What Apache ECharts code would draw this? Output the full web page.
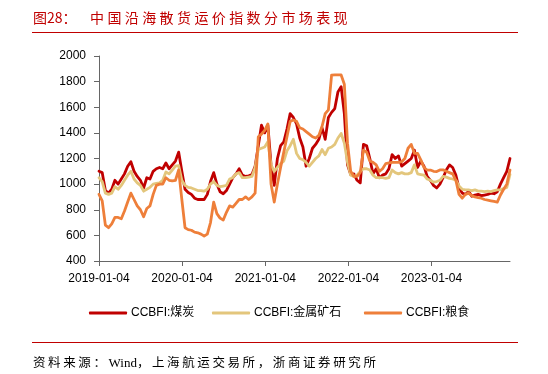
<!DOCTYPE html>
<html>
<head>
<meta charset="utf-8">
<script src="https://cdn.jsdelivr.net/npm/echarts@6/dist/echarts.min.js"></script>
<style>
  html, body { margin: 0; padding: 0; background: #fff; }
  #wrap { position: relative; width: 548px; height: 374px; overflow: hidden; }
  #chart { position: absolute; left: 0; top: 0; width: 548px; height: 374px; }
  .title { position: absolute; top: 7px; color: #c00000; font-family: "Noto Sans CJK SC", sans-serif; font-size: 14px; white-space: nowrap; }
  .rule { position: absolute; left: 32px; width: 486px; height: 1px; background: #c00000; }
  .src { position: absolute; left: 33px; top: 352px; color: #000; font-family: "Noto Sans CJK SC", sans-serif; font-size: 12.5px; letter-spacing: 2.6px; white-space: nowrap; }
  .src .lat { letter-spacing: 0; font-family: "Liberation Serif", serif; font-size: 13px; }
</style>
</head>
<body>
<div id="wrap">
  <div id="chart"></div>
  <div class="title" style="left:33px;">图28：</div>
  <div class="title" style="left:90px; letter-spacing:3.4px;">中国沿海散货运价指数分市场表现</div>
  <div class="rule" style="top:32px;"></div>
  <div class="rule" style="top:342px;"></div>
  <div class="src">资料来源：<span class="lat">Wind</span>，上海航运交易所，浙商证券研究所</div>
</div>
<script>
// Sampled every two weeks starting 2019-01-04
const START_DATE = '2019-01-04';
const STEP_DAYS = 14;
const tickLabels = ['2019-01-04', '2020-01-04', '2021-01-04', '2022-01-04', '2023-01-04'];
const seriesNames = ['CCBFI:煤炭', 'CCBFI:金属矿石', 'CCBFI:粮食'];

const coal = [
  1100, 1090, 950, 930, 960, 1030, 1000, 1040, 1080, 1140,
  1175, 1100, 1060, 1030, 970, 1050, 1040, 1100, 1120, 1130,
  1120, 1165, 1120, 1150, 1180, 1250, 1100, 960, 935, 920,
  890, 880, 880, 880, 920, 1020, 1090, 1000, 940, 925,
  950, 1000, 1050, 1080, 1120, 1070, 1060, 1065, 1075, 1140,
  1300, 1460, 1400, 1460, 1150, 990, 1200, 1300, 1330, 1430,
  1550, 1520, 1470, 1360, 1290, 1140, 1200, 1280, 1310, 1350,
  1440, 1350, 1520, 1560, 1590, 1720, 1760, 1550, 1150, 1075,
  1080, 1030, 1010, 1310, 1300, 1200, 1080, 1120, 1050, 1070,
  1080, 1120, 1230, 1200, 1220, 1140, 1160, 1180, 1200, 1265,
  1130, 1180, 1140, 1060, 1030, 990, 970, 1000, 1050, 1110,
  1150, 1130, 1070, 970, 930, 920, 945, 905, 915, 920,
  910, 915, 920, 930, 925, 940, 1000, 1050, 1100, 1200
];
const ironOre = [
  1050, 1020, 930, 920, 930, 980, 960, 990, 1030, 1070,
  1100, 1040, 1010, 990, 945, 960, 975, 1000, 1005, 1010,
  1030, 1095, 1080, 1110, 1140, 1145, 1030, 990, 975, 970,
  960, 950, 950, 945, 960, 1000, 1020, 990, 980, 985,
  990, 1040, 1050, 1080, 1090, 1050, 1050, 1055, 1060, 1130,
  1270, 1280, 1290, 1330, 1150, 1100, 1130, 1160, 1180, 1260,
  1300, 1350, 1240, 1200, 1190, 1170, 1140, 1170, 1200, 1220,
  1270, 1230, 1280, 1290, 1310, 1360, 1395, 1320, 1170, 1070,
  1060, 1070, 1100, 1120, 1120, 1110, 1070, 1050, 1050, 1050,
  1045, 1050, 1110, 1090, 1080, 1090, 1080, 1080, 1090, 1150,
  1080, 1075, 1070, 1040, 1030, 1015, 1020, 1030, 1060, 1055,
  1045, 1040, 1030, 985, 960, 955, 955, 950, 955, 945,
  945, 942, 945, 942, 950, 955, 955, 965, 975, 1075
];
const grain = [
  920, 870, 680, 660, 690, 740, 740, 730, 790, 860,
  930, 880, 830, 800, 745, 810, 830, 920, 990, 1000,
  1000, 1050, 1030, 1025, 1030, 1110, 880, 660, 645, 640,
  625, 620, 610, 595, 610, 700, 860, 770, 735, 720,
  780, 830, 820, 850, 880, 880, 900, 880, 900, 930,
  1370, 1390, 1420, 1470, 1000, 860, 1000, 1130, 1250, 1370,
  1490, 1500, 1490, 1440, 1430, 1410, 1390, 1370, 1360, 1380,
  1450, 1550, 1580, 1850, 1852, 1852, 1852, 1780, 1320, 1100,
  1060, 1060, 1090, 1265, 1250, 1180, 1170, 1150, 1100, 1120,
  1160, 1165, 1170, 1170, 1170, 1175, 1200, 1280, 1310, 1240,
  1240, 1190, 1130, 1110, 1110, 1100, 1098, 1111, 1111, 1100,
  1090, 1080, 1030, 920, 890, 920, 930, 910, 900, 895,
  890, 880, 875, 870, 865, 860, 915, 960, 1000, 1110
];

const DAY = 86400000;
const t0 = Date.parse(START_DATE + 'T00:00:00Z');
function dayOffset(s) { return Math.round((Date.parse(s + 'T00:00:00Z') - t0) / DAY); }
const dayOffsets = coal.map((_, i) => i * STEP_DAYS);
const tickOffsets = tickLabels.map(dayOffset);
const lastDay = dayOffsets[dayOffsets.length - 1];

function pairs(vals) { return vals.map((v, i) => [dayOffsets[i], v]); }

const colors = ['#c00000', '#e3c67c', '#ee7f3a'];
const FONT = '"Liberation Sans", "Noto Sans CJK SC", sans-serif';

const chart = echarts.init(document.getElementById('chart'), null, { renderer: 'canvas' });
chart.setOption({
  animation: false,
  backgroundColor: 'transparent',
  color: colors,
  grid: { left: 99, right: 38, top: 56, bottom: 113, containLabel: false },
  xAxis: {
    type: 'value',
    min: 0,
    max: lastDay,
    splitLine: { show: false },
    axisLine: { show: true, lineStyle: { color: '#666', width: 1 } },
    axisTick: { show: true, length: 5, lineStyle: { color: '#666' }, customValues: tickOffsets },
    axisLabel: {
      customValues: tickOffsets,
      color: '#000', fontSize: 12, fontFamily: FONT, margin: 12,
      formatter: function (v) { const k = tickOffsets.indexOf(Math.round(v)); return k >= 0 ? tickLabels[k] : ''; }
    }
  },
  yAxis: {
    type: 'value',
    min: 400, max: 2000, interval: 200,
    splitLine: { show: false },
    axisLine: { show: true, lineStyle: { color: '#666', width: 1 } },
    axisTick: { show: true, length: 5, lineStyle: { color: '#666' } },
    axisLabel: { color: '#000', fontSize: 12, fontFamily: FONT, margin: 13, formatter: function (v) { return String(v); } }
  },
  legend: [
    { data: [seriesNames[0]], left: 89, top: 307 },
    { data: [seriesNames[1]], left: 212, top: 307 },
    { data: [seriesNames[2]], left: 364, top: 307 }
  ].map(l => Object.assign(l, {
    icon: 'roundRect', itemWidth: 38, itemHeight: 3, itemGap: 0, padding: 0,
    textStyle: { color: '#000', fontSize: 12, fontFamily: FONT, padding: [0, 0, 0, -1] }
  })),
  series: [
    { name: seriesNames[0], type: 'line', data: pairs(coal) },
    { name: seriesNames[1], type: 'line', data: pairs(ironOre) },
    { name: seriesNames[2], type: 'line', data: pairs(grain) }
  ].map((s, i) => Object.assign(s, {
    showSymbol: false, symbol: 'none', smooth: false,
    lineStyle: { width: 2.8, color: colors[i], join: 'round', cap: 'round' },
    itemStyle: { color: colors[i] }
  }))
});
</script>
</body>
</html>
